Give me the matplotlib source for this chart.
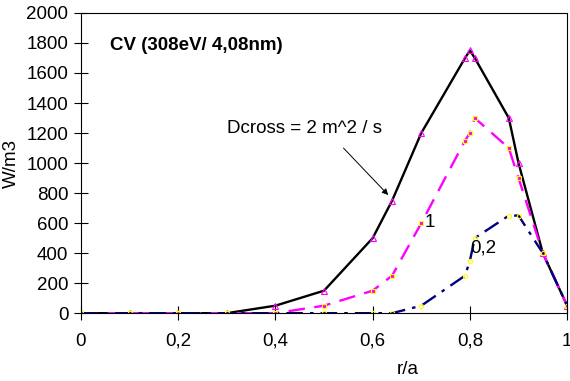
import matplotlib.pyplot as plt
from matplotlib.ticker import FuncFormatter

plt.rcParams['font.family'] = ['Liberation Sans', 'DejaVu Sans']

# r/a Stuetzstellen
r = [0, 0.1, 0.2, 0.3, 0.4, 0.5, 0.6, 0.64, 0.7, 0.79, 0.8, 0.81, 0.88, 0.9, 0.95, 1.0]

# Leistungsdichte W/m3 fuer verschiedene Dcross
w_d2 = [0, 0, 0, 0, 50, 150, 500, 750, 1200, 1700, 1750, 1700, 1300, 1000, 400, 50]
w_d1 = [0, 0, 0, 0, 0, 50, 150, 250, 600, 1150, 1200, 1300, 1100, 900, 400, 50]
w_d02 = [0, 0, 0, 0, 0, 0, 0, 0, 50, 250, 350, 500, 650, 650, 400, 50]

fig = plt.figure(figsize=(5.7, 3.81), dpi=100)
ax = fig.add_axes([0.142, 0.178, 0.853, 0.788])

ax.plot(r, w_d2, color='black', linewidth=1.7, marker='^', markersize=4,
        markerfacecolor='none', markeredgecolor='magenta', markeredgewidth=0.8)
ax.plot(r, w_d1, color='magenta', linewidth=1.7, dashes=(7, 4), marker='s', markersize=3.5,
        markerfacecolor='magenta', markeredgecolor='yellow', markeredgewidth=0.8)
ax.plot(r, w_d02, color='navy', linewidth=1.7, dashes=(7, 3, 1.5, 3), marker='o', markersize=3,
        markerfacecolor='none', markeredgecolor='yellow', markeredgewidth=0.8)

ax.set_xlim(0, 1)
ax.set_ylim(0, 2000)
ax.set_xticks([0, 0.2, 0.4, 0.6, 0.8, 1.0])
ax.set_yticks(range(0, 2001, 200))
ax.xaxis.set_major_formatter(FuncFormatter(lambda v, p: ('%g' % v).replace('.', ',')))
ax.tick_params(direction='inout', length=10, width=0.8, labelsize=13.5)
ax.tick_params(axis='y', pad=4)
ax.tick_params(axis='x', pad=9)

ax.set_xlabel('r/a', fontsize=13.5)
ax.xaxis.set_label_coords(0.673, -0.16)
ax.set_ylabel('W/m3', fontsize=13.5)
ax.yaxis.set_label_coords(-0.125, 0.5)

ax.text(0.06, 0.89, 'CV (308eV/ 4,08nm)', transform=ax.transAxes,
        fontsize=13.5, fontweight='bold', va='center')
ax.text(0.30, 1233, 'Dcross = 2 m^2 / s', fontsize=13.5, va='center')
ax.annotate('', xy=(0.632, 787), xytext=(0.54, 1100),
            arrowprops=dict(arrowstyle='-|>', color='black', lw=0.7,
                            shrinkA=0, shrinkB=0, mutation_scale=9))
ax.text(0.707, 607, '1', fontsize=13.5, va='center')
ax.text(0.80, 433, '0,2', fontsize=13.5, va='center')

plt.savefig('out.png', dpi=100)
